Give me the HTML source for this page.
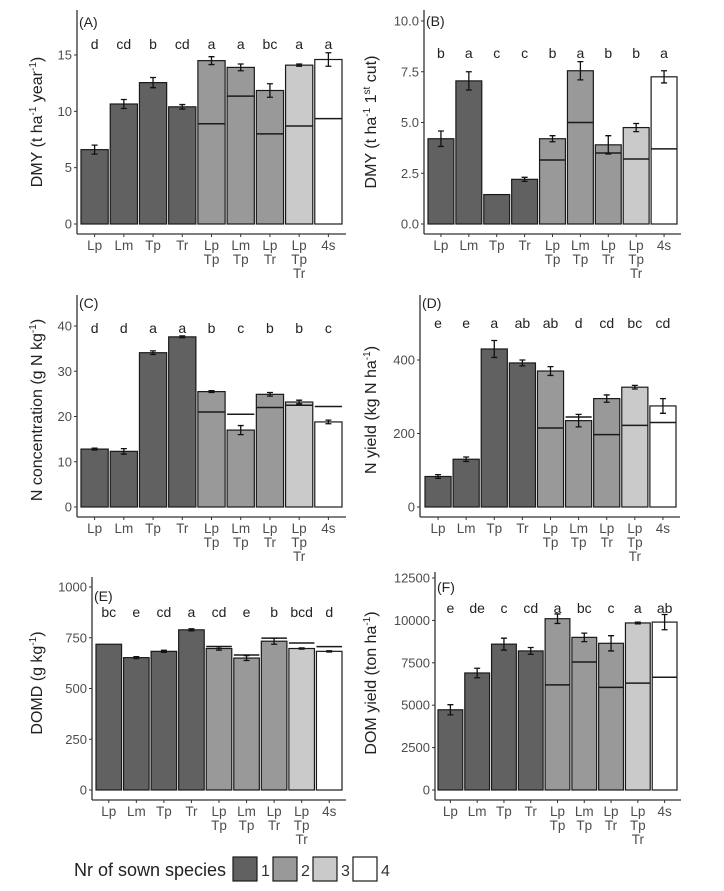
<!DOCTYPE html>
<html><head><meta charset="utf-8">
<style>
html,body{margin:0;padding:0;background:#fff;}
svg{display:block;font-family:"Liberation Sans",Arial,sans-serif;}
</style></head>
<body>
<svg id="fig" width="724" height="891" viewBox="0 0 724 891"></svg>
<script>
const categories = [["Lp"],["Lm"],["Tp"],["Tr"],["Lp","Tp"],["Lm","Tp"],["Lp","Tr"],["Lp","Tp","Tr"],["4s"]];
const groups = [1,1,1,1,2,2,2,3,4];

const dmyYear = [6.6,10.65,12.55,10.4,14.5,13.9,11.85,14.1,14.6];
const dmyYearSE = [0.4,0.4,0.45,0.2,0.35,0.3,0.6,0.1,0.6];
const dmyYearExp = [null,null,null,null,8.9,11.35,8.0,8.7,9.35];
const dmyYearLetters = ["d","cd","b","cd","a","a","bc","a","a"];

const dmyCut = [4.2,7.05,1.45,2.2,4.2,7.55,3.9,4.75,7.25];
const dmyCutSE = [0.38,0.45,0,0.1,0.15,0.45,0.45,0.2,0.3];
const dmyCutExp = [null,null,null,null,3.15,5.0,3.5,3.2,3.7];
const dmyCutLetters = ["b","a","c","c","b","a","b","b","a"];

const nConc = [12.8,12.3,34.1,37.6,25.5,17.0,24.9,23.2,18.8];
const nConcSE = [0.2,0.6,0.4,0.2,0.2,1.0,0.4,0.4,0.4];
const nConcExp = [null,null,null,null,21.0,20.5,22.0,22.5,22.2];
const nConcLetters = ["d","d","a","a","b","c","b","b","c"];

const nYield = [83,130,430,392,370,235,295,326,275];
const nYieldSE = [5,6,23,8,12,17,10,5,20];
const nYieldExp = [null,null,null,null,215,245,197,222,230];
const nYieldLetters = ["e","e","a","ab","ab","d","cd","bc","cd"];

const domd = [718,652,683,789,697,650,733,697,683];
const domdSE = [0,5,5,5,8,12,15,3,3];
const domdExp = [null,null,null,null,707,665,748,724,706];
const domdLetters = ["bc","e","cd","a","cd","e","b","bcd","d"];

const domYield = [4730,6900,8600,8200,10100,9000,8650,9850,9900];
const domYieldSE = [300,280,350,200,280,250,450,50,450];
const domYieldExp = [null,null,null,null,6200,7550,6050,6300,6650];
const domYieldLetters = ["e","de","c","cd","a","bc","c","a","ab"];

const ticksA = [0,5,10,15];
const ticksB = [0,2.5,5,7.5,10];
const ticksC = [0,10,20,30,40];
const ticksD = [0,200,400];
const ticksE = [0,250,500,750,1000];
const ticksF = [0,2500,5000,7500,10000,12500];

const fills = {1:"#616161",2:"#999999",3:"#cacaca",4:"#ffffff"};
const NS="http://www.w3.org/2000/svg";
const svg=document.getElementById('fig');
function el(tag,attrs,parent){const e=document.createElementNS(NS,tag);for(const k in attrs)e.setAttribute(k,attrs[k]);(parent||svg).appendChild(e);return e;}

function panel(cfg){
  const g=el('g',{});
  
  
  const yScale=v=>cfg.y0-(v/cfg.refVal)*(cfg.y0-cfg.refPix);
  const step=(cfg.barR-cfg.barL)/categories.length;
  const xc=i=>cfg.barL+(i+0.5)*step;
  const axisY=cfg.y0+10;
  const ya=el('line',{x1:cfg.ax,y1:cfg.top,x2:cfg.ax,y2:axisY,stroke:"#333","stroke-width":1.3},g);
  
  
  const xa=el('line',{x1:cfg.ax,y1:axisY,x2:cfg.barR+3,y2:axisY,stroke:"#333","stroke-width":1.3},g);
  
  
  cfg.ticks.forEach(t=>{
    const y=yScale(t);
    el('line',{x1:cfg.ax-3,y1:y,x2:cfg.ax,y2:y,stroke:"#333","stroke-width":1},g);
    const tx=el('text',{x:cfg.ax-5,y:y+4.5,"text-anchor":"end","font-size":13,fill:"#4d4d4d"},g);
    tx.textContent=cfg.fmt(t);
    
    
  });
  const yt=el('text',{x:0,y:0,transform:`translate(${cfg.ylx},${cfg.yly}) rotate(-90)`,"text-anchor":"middle","font-size":16,fill:"#222"},g);
  yt.innerHTML=cfg.ytitle;
  
  
  const tg=el('text',{x:cfg.ax+2,y:cfg.tagY,"font-size":14,fill:"#222"},g);
  tg.textContent='('+cfg.tag+')';
  
  
  categories.forEach((c,i)=>{
    const x=xc(i);
    const top=yScale(cfg.vals[i]);
    const r=el('rect',{x:x-step/2+1,y:top,width:step-2,height:cfg.y0-top,fill:fills[groups[i]],stroke:"#1a1a1a","stroke-width":1.2},g);
    
    
    if(cfg.exp[i]!=null){
      const ey=yScale(cfg.exp[i]);
      const l=el('line',{x1:x-step/2+1,y1:ey,x2:x+step/2-1,y2:ey,stroke:"#1a1a1a","stroke-width":1.5},g);
      
      
    }
    if(cfg.se[i]>0){
      const y1=yScale(cfg.vals[i]+cfg.se[i]), y2=yScale(cfg.vals[i]-cfg.se[i]);
      const eb=el('path',{d:`M${x} ${y1}V${y2}M${x-3} ${y1}H${x+3}M${x-3} ${y2}H${x+3}`,stroke:"#111","stroke-width":1.3,fill:"none"},g);
      
      
    }
    el('line',{x1:x,y1:axisY,x2:x,y2:axisY+3,stroke:"#333","stroke-width":1},g);
    c.forEach((s,k)=>{
      const t=el('text',{x:x,y:axisY+16+k*14,"text-anchor":"middle","font-size":13.5,fill:"#4d4d4d"},g);
      t.textContent=s;
      
      
    });
    const lt=el('text',{x:x,y:cfg.letY,"text-anchor":"middle","font-size":14,fill:"#222"},g);
    lt.textContent=cfg.letters[i];
    
    
  });
}
const sup=s=>`<tspan dy="-6" font-size="10">${s}</tspan><tspan dy="6">`;
const f0=v=>String(v), f1=v=>v.toFixed(1);
panel({tag:"A",ax:77,top:10,y0:224,refVal:15,refPix:55,barL:80,barR:343,ticks:ticksA,fmt:f0,vals:dmyYear,se:dmyYearSE,exp:dmyYearExp,letters:dmyYearLetters,letY:49,tagY:27,ylx:42,yly:122,
 ytitle:`DMY (t ha${sup('-1')} year${sup('-1')})</tspan></tspan>`});
panel({tag:"B",ax:424,top:10,y0:224,refVal:10,refPix:21,barL:427,barR:678,ticks:ticksB,fmt:f1,vals:dmyCut,se:dmyCutSE,exp:dmyCutExp,letters:dmyCutLetters,letY:58,tagY:26,ylx:376,yly:122,
 ytitle:`DMY (t ha${sup('-1')} 1${sup('st')} cut)</tspan></tspan>`});
panel({tag:"C",ax:77,top:295,y0:507,refVal:40,refPix:326,barL:80,barR:343,ticks:ticksC,fmt:f0,vals:nConc,se:nConcSE,exp:nConcExp,letters:nConcLetters,letY:333,tagY:308,ylx:42,yly:410,
 ytitle:`N concentration (g N kg${sup('-1')})</tspan>`});
panel({tag:"D",ax:420,top:295,y0:507,refVal:400,refPix:360,barL:424,barR:677,ticks:ticksD,fmt:f0,vals:nYield,se:nYieldSE,exp:nYieldExp,letters:nYieldLetters,letY:328,tagY:308,ylx:376,yly:410,
 ytitle:`N yield (kg N ha${sup('-1')})</tspan>`});
panel({tag:"E",ax:92,top:577,y0:790,refVal:1000,refPix:587,barL:95,barR:343,ticks:ticksE,fmt:f0,vals:domd,se:domdSE,exp:domdExp,letters:domdLetters,letY:617,tagY:601,ylx:42,yly:683,
 ytitle:`DOMD (g kg${sup('-1')})</tspan>`});
panel({tag:"F",ax:435,top:572,y0:790,refVal:12500,refPix:578,barL:437,barR:678,ticks:ticksF,fmt:f0,vals:domYield,se:domYieldSE,exp:domYieldExp,letters:domYieldLetters,letY:613,tagY:592,ylx:376,yly:683,
 ytitle:`DOM yield (ton ha${sup('-1')})</tspan>`});

const lg=el('g',{});


const lt=el('text',{x:74,y:876,"font-size":18,fill:"#222"},lg);
lt.textContent="Nr of sown species";


[1,2,3,4].forEach((n,i)=>{
  const x=233+i*40;
  const r=el('rect',{x:x,y:857,width:24,height:24,fill:fills[n],stroke:"#1a1a1a","stroke-width":1.2},lg);
  
  
  const t=el('text',{x:x+28,y:876,"font-size":16,fill:"#333"},lg);
  t.textContent=String(n);
  
  
});
</script>
</body></html>
